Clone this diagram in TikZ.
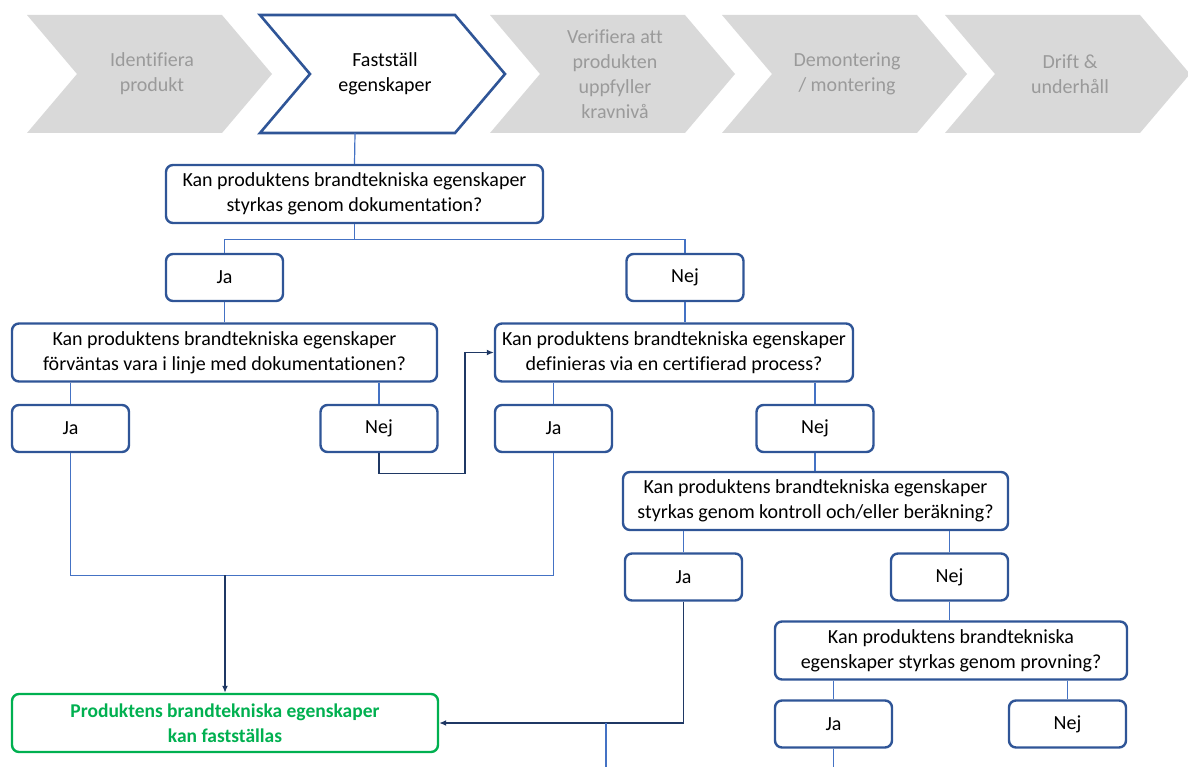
\documentclass[tikz,border=0pt]{standalone}
\usepackage{fontspec}
\setmainfont{Carlito}[Ligatures=NoCommon]
\usetikzlibrary{arrows.meta,calc}

\definecolor{boxblue}{HTML}{2F5597}
\definecolor{linkblue}{HTML}{4472C4}
\definecolor{navyline}{HTML}{1F3864}
\definecolor{chevgray}{HTML}{D9D9D9}
\definecolor{chevtext}{HTML}{9A9A9A}
\definecolor{okgreen}{HTML}{00B050}

\tikzset{
    question/.style={draw=boxblue, line width=2.4pt, rounded corners=7pt, fill=white,
        align=center, inner sep=0pt, minimum height=58pt},
    answer/.style={question, minimum width=117pt, minimum height=47pt},
    result/.style={question, draw=okgreen, text=okgreen, font=\bfseries\fontsize{19.5}{25}\selectfont},
    conn/.style={draw=linkblue, line width=1.2pt},
    navyarrow/.style={draw=navyline, line width=1.4pt, -{Latex[length=7pt,width=6pt]}},
}

\begin{document}
\begin{tikzpicture}[x=1pt, y=-1pt, font=\fontsize{20}{25}\selectfont]
    \useasboundingbox (0,0) rectangle (1188,767);

    % Process steps (chevrons)
    \foreach \lx/\nm/\txt in {27/ident/{Identifiera\\produkt},
                              490/verif/{Verifiera att\\produkten\\uppfyller\\kravnivå},
                              722/demont/{Demontering\\/ montering},
                              945/drift/{Drift \&\\underhåll}} {
        \fill[chevgray] (\lx,15) -- ++(195,0) -- ++(50,59) -- ++(-50,59) -- ++(-195,0) -- ++(50,-59) -- cycle;
        \node[text=chevtext, align=center] (\nm) at (\lx+125,74) {\txt};
    }

    % Current step
    \draw[boxblue, line width=2.6pt, fill=white]
        (260,15) -- ++(195,0) -- ++(50,59) -- ++(-50,59) -- ++(-195,0) -- ++(50,-59) -- cycle;
    \node[align=center] (fast) at (385,74) {Fastställ\\egenskaper};
    \coordinate (fastb) at (355,133);

    % Questions and answers
    \node[question, minimum width=377pt] (q1) at (354.5,194)
        {Kan produktens brandtekniska egenskaper\\styrkas genom dokumentation?};
    \node[answer] (ja1) at (224.5,277.5) {Ja};
    \node[answer] (nej1) at (685,277.5) {Nej};

    \node[question, minimum width=425pt] (q2) at (224.5,352.5)
        {Kan produktens brandtekniska egenskaper\\förväntas vara i linje med dokumentationen?};
    \node[question, minimum width=358pt] (q3) at (674,352.5)
        {Kan produktens brandtekniska egenskaper\\definieras via en certifierad process?};
    \node[answer] (ja2) at (70.5,428.5) {Ja};
    \node[answer] (nej2) at (379,428.5) {Nej};
    \node[answer] (ja3) at (553.5,428.5) {Ja};
    \node[answer] (nej3) at (815,428.5) {Nej};

    \node[question, minimum width=385pt] (q4) at (815.5,501)
        {Kan produktens brandtekniska egenskaper\\styrkas genom kontroll och/eller beräkning?};
    \node[answer] (ja4) at (683.5,577) {Ja};
    \node[answer] (nej4) at (949.5,577) {Nej};

    \node[question, minimum width=352pt] (q5) at (951,650.5)
        {Kan produktens brandtekniska\\egenskaper styrkas genom provning?};
    \node[answer] (ja5) at (833.5,724) {Ja};
    \node[answer] (nej5) at (1067.5,724) {Nej};

    % Outcome
    \node[result, minimum width=426pt] (final) at (225,723)
        {Produktens brandtekniska egenskaper\\kan fastställas};

    % Connectors
    \draw[conn] (fastb) -- (q1.north);
    \draw[conn] (q1.south) -- ++(0,15) coordinate (q1s);
    \draw[conn] (q1s) -| (ja1.north);
    \draw[conn] (q1s) -| (nej1.north);
    \draw[conn] (ja1.south) -- (q2.north);
    \draw[conn] (nej1.south) -- (nej1.south |- q3.north);

    \draw[conn] (ja2.north |- q2.south) -- (ja2.north);
    \draw[conn] (nej2.north |- q2.south) -- (nej2.north);
    \draw[conn] (ja3.north |- q3.south) -- (ja3.north);
    \draw[conn] (nej3.north |- q3.south) -- (nej3.north);

    \coordinate (bend) at ($(q3.west)+(-29,0)$);
    \draw[navyarrow] (nej2.south) -- ++(0,20) -| (bend) -- (q3.west);

    \draw[conn] (ja2.south) -- ++(0,122) coordinate (m1) -| (ja3.south);
    \draw[navyarrow] (m1 -| final.north) -- (final.north);

    \draw[conn] (nej3.south) -- (nej3.south |- q4.north);
    \draw[conn] (ja4.north |- q4.south) -- (ja4.north);
    \draw[conn] (nej4.north |- q4.south) -- (nej4.north);
    \draw[navyarrow] (ja4.south) |- (final.east);

    \draw[conn] (nej4.south) -- (nej4.south |- q5.north);
    \draw[conn] (ja5.north |- q5.south) -- (ja5.north);
    \draw[conn] (nej5.north |- q5.south) -- (nej5.north);

    % Lines leaving the lower edge
    \coordinate (off1) at (606,767);
    \draw[conn] (off1) -- (off1 |- final.east);
    \draw[conn] (ja5.south) -- (ja5.south |- off1);
\end{tikzpicture}
\end{document}
